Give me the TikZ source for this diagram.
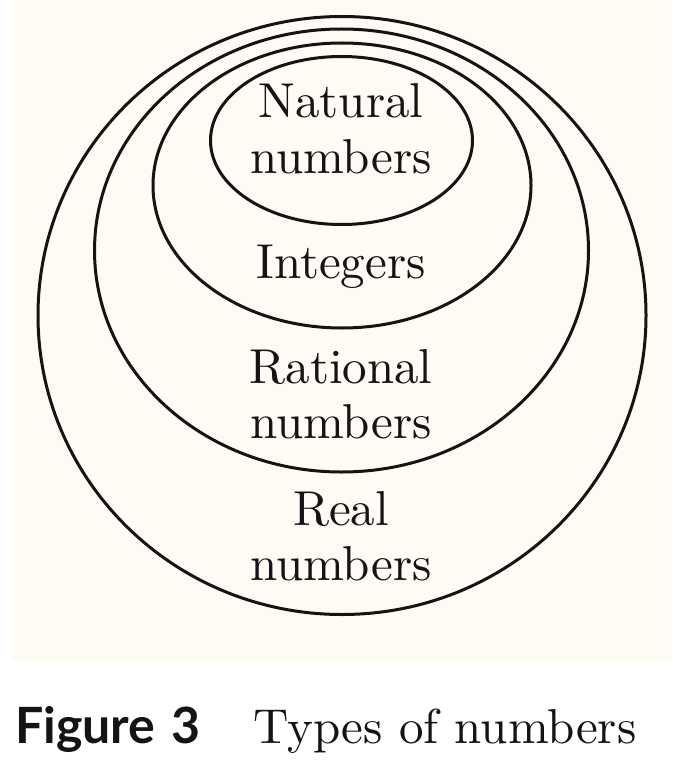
\documentclass[tikz,border=0pt]{standalone}
\usepackage{fontspec}
\setmainfont{lmroman10-regular.otf}
\newfontfamily\capsans{Lato}
\definecolor{bgcream}{RGB}{254,250,244}
\definecolor{inkc}{RGB}{20,20,20}
\tikzset{
  ring/.style={draw=inkc, line width=3pt},
  lbl/.style={anchor=base, inner sep=0pt, text=inkc, font=\fontsize{49}{55}\selectfont},
}
\begin{document}
\begin{tikzpicture}[x=1pt,y=-1pt]
\useasboundingbox (0,0) rectangle (672,762);
\fill[white] (0,0) rectangle (672,762);
\fill[bgcream] (12,0) rectangle (672,661);
% sets
\draw[ring] (342,315.5) ellipse [x radius=304, y radius=299];
\draw[ring] (341.5,250.5) ellipse [x radius=247, y radius=221.5];
\draw[ring] (342,185.5) ellipse [x radius=189, y radius=142.5];
\draw[ring] (341.5,140.5) ellipse [x radius=131, y radius=84];
% labels
\node[lbl] (nat1) at (341,118) {Natural};
\node[lbl] (nat2) at (341,173) {numbers};
\node[lbl] (int) at (341,278) {Integers};
\node[lbl] (rat1) at (341,383) {Rational};
\node[lbl] (rat2) at (341,438) {numbers};
\node[lbl] (real1) at (341,525) {Real};
\node[lbl] (real2) at (341,580) {numbers};
% caption
\node[anchor=base west, inner sep=0pt, text=inkc, font=\capsans\bfseries\fontsize{50}{55}\selectfont] (fig) at (15,743) {Figure\hspace{0.32em}3};
\node[anchor=base west, inner sep=0pt, text=inkc, font=\fontsize{49}{55}\selectfont] (cap) at (253,743) {Types of numbers};
\end{tikzpicture}
\end{document}
